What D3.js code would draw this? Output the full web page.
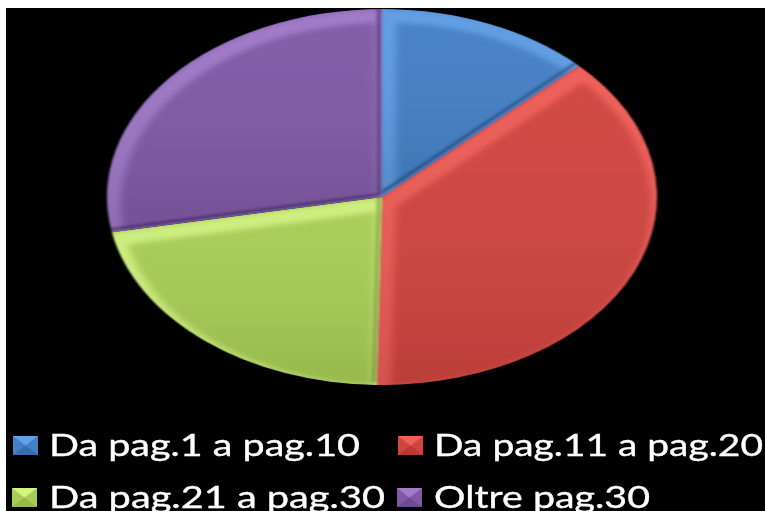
<!DOCTYPE html>
<html><head><meta charset="utf-8">
<script src="https://cdn.jsdelivr.net/npm/d3@7"></script>
<style>html,body{margin:0;padding:0;background:#fff;overflow:hidden}svg{display:block}</style>
</head><body><svg id="c" width="765" height="511"></svg>
<script>
const categories=["Da pag.1 a pag.10","Da pag.11 a pag.20","Da pag.21 a pag.30","Oltre pag.30"];
const seriesValues=[12.7,37.6,21.7,28];
const colours=["#4480c6","#d1453f","#a8cd55","#8059a6"];
const lightColours=["#62a0e8","#f25f59","#d4f482","#a27ccb"];
const darkColours=["#1f4580","#7a2220","#6f8c35","#3f2a66"];
const legendRows=[[0,1],[2,3]];
const W=765,H=511,cx=382,cy=197,rx=275,ry=188;
const svg=d3.select("#c");
svg.append("rect").attr("x",6).attr("y",8).attr("width",W-6).attr("height",H-8).attr("fill","#000");
const defs=svg.append("defs");
defs.append("filter").attr("id","b").attr("x","-20%").attr("y","-20%").attr("width","140%").attr("height","140%")
  .append("feGaussianBlur").attr("stdDeviation",3.6);
defs.append("filter").attr("id","bd").attr("x","-20%").attr("y","-20%").attr("width","140%").attr("height","140%")
  .append("feGaussianBlur").attr("stdDeviation",1.6);
defs.append("filter").attr("id","soft").attr("x","-5%").attr("y","-5%").attr("width","110%").attr("height","110%")
  .append("feGaussianBlur").attr("stdDeviation",0.8);
defs.append("filter").attr("id","tb").attr("x","-5%").attr("y","-20%").attr("width","110%").attr("height","140%")
  .append("feGaussianBlur").attr("stdDeviation",0.45);
const shade=defs.append("linearGradient").attr("id","shade").attr("x1",0).attr("y1",0).attr("x2",0).attr("y2",1);
shade.append("stop").attr("offset",0).attr("stop-color","#fff").attr("stop-opacity",0.03);
shade.append("stop").attr("offset",1).attr("stop-color","#000").attr("stop-opacity",0.1);
const pie=d3.pie().sort(null).value(d=>d);
const arc=d3.arc().innerRadius(0).outerRadius(rx);
const radii=d3.lineRadial().angle(d=>d[0]).radius(d=>d[1]);
const g=svg.append("g").attr("transform",`translate(${cx},${cy}) scale(1,${ry/rx})`).attr("filter","url(#soft)");
const arcs=pie(seriesValues);
arcs.forEach((a,i)=>{
  const d=arc(a);
  defs.append("clipPath").attr("id","cl"+i).append("path").attr("d",d);
  const s=g.append("g").attr("clip-path",`url(#cl${i})`);
  s.append("path").attr("d",d).attr("fill",colours[i]);
  s.append("path").attr("d",d).attr("fill","none").attr("stroke",lightColours[i]).attr("stroke-width",20)
    .attr("stroke-opacity",0.85).attr("filter","url(#b)").attr("transform","translate(4,10)");
  s.append("path").attr("d",radii([[a.startAngle,rx],[0,0],[a.endAngle,rx]])).attr("fill","none")
    .attr("stroke",darkColours[i]).attr("stroke-width",4).attr("stroke-opacity",0.7)
    .attr("filter","url(#bd)").attr("transform","translate(-3,-4)");
  s.append("path").attr("d",d).attr("fill","url(#shade)");
});
const fontSize=31;
const rowY=[456,508];
const itemX=[[13,398],[12,397]];
const textX=[[49,434],[49,434]];
const textW=[[311,329],[336,216]];
legendRows.forEach((row,r)=>row.forEach((idx,k)=>{
  const x=itemX[r][k],y=rowY[r],sz=25,top=y-20;
  const mg=svg.append("g").attr("transform",`translate(${x},${top}) scale(${sz/20},${19/20})`).attr("filter","url(#tb)");
  const poly=(pts,c)=>mg.append("polygon").attr("points",pts).attr("fill",c);
  poly("0,0 20,0 20,20 0,20",colours[idx]);
  poly("0,0 20,0 10,10",lightColours[idx]);
  poly("0,20 20,20 10,10",darkColours[idx]).attr("opacity",0.3);
  svg.append("text").attr("x",textX[r][k]).attr("y",y).attr("fill","#fff")
    .attr("stroke","#fff").attr("stroke-width",0.35).attr("filter","url(#tb)")
    .attr("font-family","Lato, Open Sans, sans-serif").attr("font-size",fontSize)
    .attr("textLength",textW[r][k]).attr("lengthAdjust","spacingAndGlyphs").text(categories[idx]);
}));
</script></body></html>
